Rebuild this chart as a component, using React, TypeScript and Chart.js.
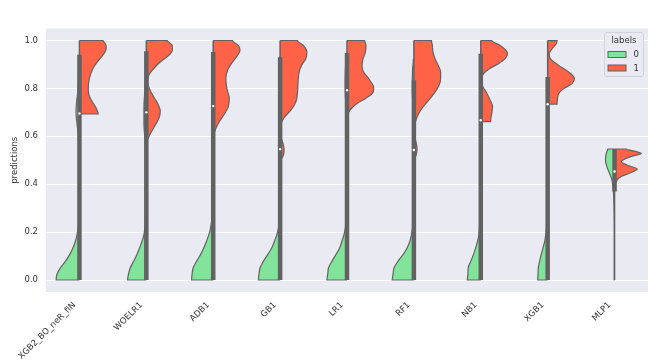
import React, { useEffect, useRef } from 'react';
import { Chart, registerables } from 'chart.js';

Chart.register(...registerables);

// ---------- data ----------
const categories = ['XGB2_BO_neR_fiN', 'WOELR1', 'ADB1', 'GB1', 'LR1', 'RF1', 'NB1', 'XGB1', 'MLP1'];
const yTicks = [0, 0.2, 0.4, 0.6, 0.8, 1.0];
const legendTitle = 'labels';
const legendLabels = ['0', '1'];

// kernel density outlines: [prediction value, relative density]
const xgb2Label0 = [[0, 0.87], [0.024, 0.84], [0.051, 0.71], [0.079, 0.52], [0.107, 0.36], [0.135, 0.24], [0.162, 0.15], [0.19, 0.09], [0.218, 0.05], [0.25, 0.03], [0.35, 0.02], [0.5, 0.02], [0.6, 0.04], [0.66, 0.1], [0.7, 0.13], [0.75, 0.1], [0.8, 0.05], [0.88, 0.03], [0.94, 0.01]];
const xgb2Label1 = [[0.693, 0.7], [0.716, 0.63], [0.744, 0.48], [0.771, 0.36], [0.799, 0.33], [0.841, 0.37], [0.882, 0.5], [0.91, 0.66], [0.938, 0.87], [0.958, 0.98], [0.972, 1.0], [0.986, 0.97], [1.0, 0.88]];
const woelr1Label0 = [[0, 0.7], [0.024, 0.67], [0.051, 0.6], [0.079, 0.47], [0.107, 0.35], [0.135, 0.25], [0.162, 0.16], [0.19, 0.09], [0.218, 0.05], [0.25, 0.03], [0.4, 0.02], [0.55, 0.03], [0.6, 0.06], [0.65, 0.09], [0.72, 0.09], [0.8, 0.05], [0.9, 0.02], [0.95, 0.01]];
const woelr1Label1 = [[0.578, 0.03], [0.6, 0.1], [0.625, 0.22], [0.654, 0.37], [0.681, 0.49], [0.705, 0.52], [0.73, 0.45], [0.76, 0.3], [0.79, 0.15], [0.82, 0.06], [0.85, 0.08], [0.882, 0.27], [0.91, 0.52], [0.938, 0.84], [0.958, 0.97], [0.979, 0.97], [1.0, 0.78]];
const adb1Label0 = [[0, 0.81], [0.024, 0.79], [0.051, 0.75], [0.079, 0.62], [0.107, 0.47], [0.135, 0.35], [0.162, 0.25], [0.19, 0.16], [0.218, 0.1], [0.246, 0.06], [0.27, 0.04], [0.4, 0.02], [0.6, 0.03], [0.7, 0.06], [0.8, 0.04], [0.9, 0.02], [0.95, 0.01]];
const adb1Label1 = [[0.612, 0.04], [0.633, 0.1], [0.66, 0.22], [0.688, 0.39], [0.723, 0.56], [0.758, 0.6], [0.799, 0.51], [0.841, 0.47], [0.882, 0.56], [0.91, 0.72], [0.938, 0.91], [0.958, 1.0], [0.979, 0.94], [1.0, 0.72]];
const gb1Label0 = [[0, 0.81], [0.024, 0.79], [0.051, 0.75], [0.079, 0.62], [0.107, 0.46], [0.135, 0.31], [0.162, 0.21], [0.19, 0.12], [0.218, 0.06], [0.25, 0.03], [0.4, 0.02], [0.6, 0.02], [0.75, 0.03], [0.85, 0.05], [0.93, 0.02]];
const gb1Label1 = [[0.5, 0.03], [0.515, 0.1], [0.54, 0.15], [0.565, 0.12], [0.59, 0.05], [0.615, 0.02], [0.64, 0.02], [0.66, 0.06], [0.681, 0.17], [0.709, 0.4], [0.744, 0.59], [0.785, 0.65], [0.827, 0.67], [0.868, 0.71], [0.896, 0.8], [0.924, 0.96], [0.952, 1.0], [0.979, 0.87], [1.0, 0.65]];
const lr1Label0 = [[0, 0.75], [0.024, 0.72], [0.051, 0.69], [0.079, 0.56], [0.107, 0.41], [0.135, 0.27], [0.162, 0.19], [0.19, 0.11], [0.218, 0.06], [0.25, 0.03], [0.45, 0.02], [0.7, 0.03], [0.8, 0.07], [0.88, 0.06], [0.94, 0.02]];
const lr1Label1 = [[0.688, 0.02], [0.7, 0.06], [0.716, 0.16], [0.737, 0.37], [0.758, 0.69], [0.778, 0.94], [0.799, 1.0], [0.813, 0.97], [0.841, 0.81], [0.868, 0.62], [0.896, 0.56], [0.924, 0.6], [0.952, 0.69], [0.979, 0.71], [1.0, 0.66]];
const rf1Label0 = [[0, 0.81], [0.024, 0.78], [0.051, 0.74], [0.079, 0.59], [0.107, 0.4], [0.135, 0.25], [0.162, 0.15], [0.19, 0.09], [0.218, 0.05], [0.25, 0.03], [0.45, 0.02], [0.7, 0.03], [0.8, 0.06], [0.88, 0.05], [0.92, 0.02]];
const rf1Label1 = [[0.5, 0.02], [0.52, 0.08], [0.545, 0.12], [0.57, 0.09], [0.595, 0.04], [0.62, 0.03], [0.647, 0.04], [0.675, 0.1], [0.709, 0.25], [0.744, 0.5], [0.778, 0.75], [0.813, 0.94], [0.841, 1.0], [0.868, 1.0], [0.896, 0.91], [0.924, 0.79], [0.952, 0.71], [0.979, 0.69], [1.0, 0.66]];
const nb1Label0 = [[0, 0.5], [0.024, 0.48], [0.051, 0.47], [0.079, 0.37], [0.107, 0.27], [0.135, 0.19], [0.162, 0.12], [0.19, 0.07], [0.218, 0.05], [0.25, 0.03], [0.5, 0.02], [0.7, 0.03], [0.85, 0.02], [0.94, 0.01]];
const nb1Label1 = [[0.661, 0.37], [0.668, 0.37], [0.695, 0.41], [0.723, 0.44], [0.751, 0.35], [0.785, 0.2], [0.813, 0.06], [0.841, 0.04], [0.861, 0.1], [0.882, 0.32], [0.903, 0.66], [0.924, 0.91], [0.945, 1.0], [0.958, 0.95], [0.979, 0.72], [1.0, 0.41]];
const xgb1Label0 = [[0, 0.37], [0.024, 0.36], [0.051, 0.35], [0.079, 0.3], [0.107, 0.24], [0.135, 0.17], [0.162, 0.11], [0.19, 0.07], [0.218, 0.04], [0.25, 0.02], [0.5, 0.02], [0.75, 0.02], [0.84, 0.01]];
const xgb1Label1 = [[0.734, 0.35], [0.758, 0.37], [0.778, 0.41], [0.799, 0.6], [0.82, 0.91], [0.841, 1.0], [0.868, 0.79], [0.896, 0.41], [0.924, 0.1], [0.945, 0.06], [0.965, 0.16], [0.986, 0.32], [1.0, 0.35]];
const mlp1Label0 = [[0, 0.01], [0.2, 0.01], [0.3, 0.02], [0.363, 0.04], [0.39, 0.06], [0.418, 0.1], [0.446, 0.19], [0.474, 0.29], [0.501, 0.34], [0.529, 0.31], [0.547, 0.25]];
const mlp1Label1 = [[0.411, 0.08], [0.418, 0.1], [0.432, 0.25], [0.446, 0.56], [0.463, 0.85], [0.481, 0.44], [0.494, 0.25], [0.515, 0.6], [0.528, 1.0], [0.536, 0.81], [0.547, 0.44]];

const label0Halves = [xgb2Label0, woelr1Label0, adb1Label0, gb1Label0, lr1Label0, rf1Label0, nb1Label0, xgb1Label0, mlp1Label0];
const label1Halves = [xgb2Label1, woelr1Label1, adb1Label1, gb1Label1, lr1Label1, rf1Label1, nb1Label1, xgb1Label1, mlp1Label1];

// inner box (all predictions of a model)
const whiskerLow = [0, 0, 0, 0, 0, 0, 0, 0, 0];
const whiskerHigh = [1, 1, 1, 1, 1, 1, 1, 1, 0.547];
const quartile1 = [0, 0, 0, 0, 0, 0, 0, 0, 0.37];
const quartile3 = [0.94, 0.955, 0.952, 0.93, 0.948, 0.834, 0.945, 0.848, 0.547];
const medians = [0.695, 0.7, 0.726, 0.546, 0.792, 0.543, 0.667, 0.734, 0.453];

// ---------- styles ----------
const GREEN = '#82E39B';
const RED = '#FF6347';
const GRAY = '#626262';
const BG = '#EAEAF2';
const TEXT = '#333333';
const HALF_WIDTH = 0.4;
const FONT = 'DejaVu Sans';

function halfOutline(center: number, pts: number[][], side: number) {
  const desc = [...pts].sort((a, b) => b[0] - a[0]);
  const out = [{ x: center, y: desc[0][0] }];
  desc.forEach(([v, d]) => out.push({ x: center + side * d * HALF_WIDTH, y: v }));
  out.push({ x: center, y: desc[desc.length - 1][0] });
  return out;
}

const backgroundPlugin = {
  id: 'plotBackground',
  beforeDraw(chart: any) {
    const { ctx, chartArea } = chart;
    ctx.save();
    ctx.fillStyle = BG;
    ctx.fillRect(chartArea.left, chartArea.top, chartArea.right - chartArea.left, chartArea.bottom - chartArea.top);
    ctx.restore();
  },
};

const legendPlugin = {
  id: 'violinLegend',
  afterDraw(chart: any) {
    const { ctx, chartArea } = chart;
    const w = 39;
    const h = 44;
    const x = chartArea.right - w - 4.5;
    const y = chartArea.top + 4;
    ctx.save();
    ctx.beginPath();
    ctx.roundRect(x, y, w, h, 2.5);
    ctx.fillStyle = 'rgba(234,234,242,0.85)';
    ctx.fill();
    ctx.strokeStyle = '#d2d2d8';
    ctx.lineWidth = 1;
    ctx.stroke();
    ctx.font = `8.5px "${FONT}"`;
    ctx.fillStyle = TEXT;
    ctx.textAlign = 'center';
    ctx.textBaseline = 'middle';
    ctx.fillText(legendTitle, x + w / 2, y + 8.5);
    const colors = [GREEN, RED];
    legendLabels.forEach((lab, i) => {
      const ry = y + 19 + i * 13.5;
      ctx.fillStyle = colors[i];
      ctx.fillRect(x + 3.5, ry, 18, 6);
      ctx.strokeStyle = GRAY;
      ctx.lineWidth = 1;
      ctx.strokeRect(x + 3.5, ry, 18, 6);
      ctx.fillStyle = TEXT;
      ctx.textAlign = 'left';
      ctx.fillText(lab, x + 29, ry + 3.5);
    });
    ctx.restore();
  },
};

export default function App() {
  const ref = useRef<HTMLCanvasElement | null>(null);

  useEffect(() => {
    if (!ref.current) return;
    Chart.defaults.font.family = FONT;
    const datasets: any[] = [];
    label0Halves.forEach((pts, i) => {
      datasets.push({
        label: 'label0-' + categories[i],
        data: halfOutline(i, pts, -1),
        indexAxis: 'y',
        fill: { value: i },
        backgroundColor: GREEN,
        borderColor: GRAY,
        borderWidth: 1.2,
        pointRadius: 0,
        cubicInterpolationMode: 'monotone',
        order: 4,
      });
    });
    label1Halves.forEach((pts, i) => {
      datasets.push({
        label: 'label1-' + categories[i],
        data: halfOutline(i, pts, 1),
        indexAxis: 'y',
        fill: { value: i },
        backgroundColor: RED,
        borderColor: GRAY,
        borderWidth: 1.2,
        pointRadius: 0,
        cubicInterpolationMode: 'monotone',
        order: 4,
      });
    });
    categories.forEach((c, i) => {
      datasets.push({
        label: 'whisker-' + c,
        data: [{ x: i, y: whiskerLow[i] }, { x: i, y: whiskerHigh[i] }],
        borderColor: GRAY,
        borderWidth: 1.5,
        borderCapStyle: 'butt',
        pointRadius: 0,
        fill: false,
        order: 3,
      });
      datasets.push({
        label: 'box-' + c,
        data: [{ x: i, y: quartile1[i] }, { x: i, y: quartile3[i] }],
        borderColor: GRAY,
        borderWidth: 4.5,
        borderCapStyle: 'butt',
        pointRadius: 0,
        fill: false,
        order: 2,
      });
    });
    datasets.push({
      label: 'median',
      data: medians.map((m, i) => ({ x: i, y: m })),
      showLine: false,
      pointRadius: 1.2,
      pointBackgroundColor: '#ffffff',
      pointBorderWidth: 0,
      fill: false,
      order: 1,
    });

    const chart = new Chart(ref.current, {
      type: 'line',
      data: { datasets },
      options: {
        animation: false,
        responsive: false,
        devicePixelRatio: 1,
        events: [],
        layout: { padding: { top: 28.5, right: 11, left: 0, bottom: 0 } },
        plugins: { legend: { display: false }, tooltip: { enabled: false } },
        scales: {
          x: {
            type: 'linear',
            min: -0.5,
            max: 8.5,
            grid: { display: false },
            border: { display: false },
            afterBuildTicks: (s: any) => {
              s.ticks = categories.map((_, i) => ({ value: i }));
            },
            afterFit: (s: any) => {
              s.height = 71;
              s.paddingLeft = 0;
              s.paddingRight = 0;
            },
            ticks: {
              autoSkip: false,
              minRotation: 45,
              maxRotation: 45,
              padding: 0,
              labelOffset: -5,
              color: TEXT,
              font: { size: 8.5 },
              callback: (v: any) => categories[Math.round(Number(v))],
            },
          },
          y: {
            type: 'linear',
            min: -0.05,
            max: 1.05,
            afterBuildTicks: (s: any) => {
              s.ticks = yTicks.map((v) => ({ value: v }));
            },
            afterFit: (s: any) => {
              s.width = 46;
              s.paddingTop = 0;
              s.paddingBottom = 0;
            },
            grid: { color: '#ffffff', lineWidth: 1, drawTicks: false },
            border: { display: false },
            ticks: {
              padding: 8,
              color: TEXT,
              font: { size: 8.5 },
              callback: (v: any) => Number(v).toFixed(1),
            },
            title: {
              display: true,
              text: 'predictions',
              color: TEXT,
              font: { size: 8.5 },
              padding: { top: 10, bottom: 0 },
            },
          },
        },
      },
      plugins: [backgroundPlugin, legendPlugin],
    } as any);
    return () => chart.destroy();
  }, []);

  return (
    <div style={{ position: 'fixed', left: 0, top: 0, width: 659, height: 363, background: '#ffffff' }}>
      <canvas ref={ref} width={659} height={363} />
    </div>
  );
}
